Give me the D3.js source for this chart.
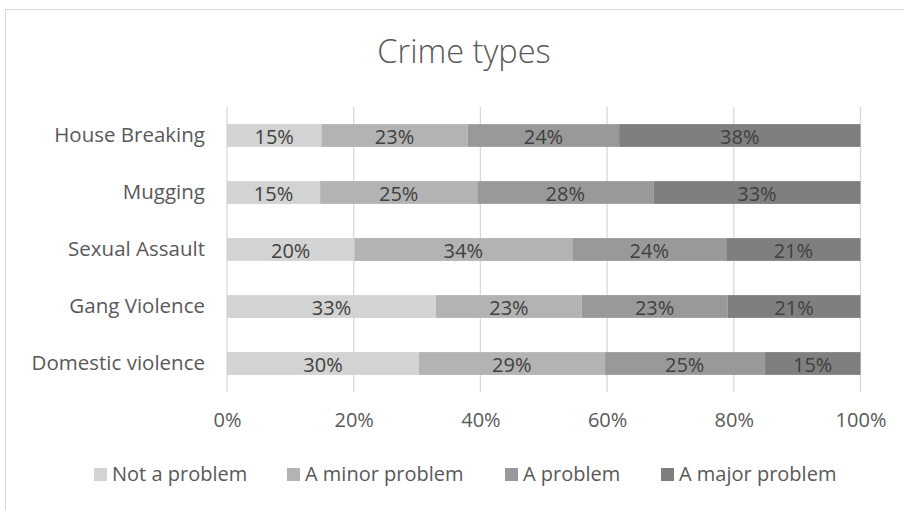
<!DOCTYPE html>
<html>
<head>
<meta charset="utf-8">
<script src="https://cdn.jsdelivr.net/npm/d3@7"></script>
<style>
  body { margin: 0; background: #fff; }
  text { font-family: "Open Sans", "DejaVu Sans", sans-serif; }
</style>
</head>
<body>
<div id="chart"></div>
<script>
const categories = ["House Breaking", "Mugging", "Sexual Assault", "Gang Violence", "Domestic violence"];
const seriesNames = ["Not a problem", "A minor problem", "A problem", "A major problem"];
const notAProblem = [14.9, 14.7, 20.1, 33.0, 30.3];
const minorProblem = [23.1, 24.8, 34.4, 23.0, 29.3];
const aProblem = [23.9, 27.8, 24.3, 23.0, 25.3];
const majorProblem = [38.1, 32.7, 21.2, 21.0, 15.1];
const xTicks = [0, 0.2, 0.4, 0.6, 0.8, 1];
const colors = ["#d3d3d3", "#b3b3b3", "#999999", "#7f7f7f"];

const svgWidth = 904, svgHeight = 510;
const margin = {top: 107, right: 44, bottom: 118, left: 227};
const width = 633.5;
const height = svgHeight - margin.top - margin.bottom;

const svg = d3.select("#chart").append("svg")
  .attr("width", svgWidth)
  .attr("height", svgHeight);

// chart border (continues past the right / bottom edge)
svg.append("rect")
  .attr("x", 5.5).attr("y", 9.5)
  .attr("width", 1000).attr("height", 600)
  .attr("fill", "#fff")
  .attr("stroke", "#d9d9d9");

svg.append("text")
  .attr("x", 464).attr("y", 63)
  .attr("text-anchor", "middle")
  .style("font-size", "32.5px")
  .style("font-weight", 300)
  .attr("fill", "#595959")
  .text("Crime types");

const g = svg.append("g").attr("transform", `translate(${margin.left},${margin.top})`);

// build rows from the series arrays
const rows = categories.map((c, i) => ({
  cat: c,
  "Not a problem": notAProblem[i] / 100,
  "A minor problem": minorProblem[i] / 100,
  "A problem": aProblem[i] / 100,
  "A major problem": majorProblem[i] / 100
}));
const stacked = d3.stack().keys(seriesNames)(rows);

const x = d3.scaleLinear().domain([0, 1]).range([0, width]);
const y = d3.scaleBand().domain(categories).range([0, height]).paddingInner(0.6).paddingOuter(0.3);

// gridlines
g.append("g")
  .selectAll("line")
  .data(xTicks)
  .join("line")
  .attr("x1", d => x(d)).attr("x2", d => x(d))
  .attr("y1", 0).attr("y2", height)
  .attr("stroke", "#d9d9d9")
  .attr("stroke-width", 1.3);

const xAxis = g.append("g")
  .attr("transform", `translate(0,${height})`)
  .call(d3.axisBottom(x).tickValues(xTicks).tickFormat(d3.format(".0%")).tickSize(0).tickPadding(21));
xAxis.select(".domain").remove();
xAxis.selectAll("text")
  .style("font-size", "20px")
  .attr("fill", "#595959");

const yAxis = g.append("g")
  .call(d3.axisLeft(y).tickSize(0).tickPadding(22));
yAxis.select(".domain").remove();
yAxis.selectAll("text")
  .style("font-size", "20.5px")
  .attr("fill", "#595959");

const layers = g.selectAll(".layer")
  .data(stacked)
  .join("g")
  .attr("class", "layer")
  .attr("fill", (d, i) => colors[i]);

layers.selectAll("rect")
  .data(d => d)
  .join("rect")
  .attr("x", d => x(d[0]))
  .attr("y", d => y(d.data.cat))
  .attr("width", d => x(d[1]) - x(d[0]))
  .attr("height", y.bandwidth());

layers.selectAll("text")
  .data(d => d)
  .join("text")
  .attr("x", d => (x(d[0]) + x(d[1])) / 2)
  .attr("y", d => y(d.data.cat) + y.bandwidth() / 2 + 1)
  .attr("dy", "0.35em")
  .attr("text-anchor", "middle")
  .style("font-size", "20px")
  .attr("fill", "#404040")
  .text(d => d3.format(".0%")(d[1] - d[0]));

// legend
const legend = svg.append("g").attr("transform", "translate(0,474)");
const legendX = [94, 287, 505, 661];
const items = legend.selectAll("g")
  .data(seriesNames)
  .join("g")
  .attr("transform", (d, i) => `translate(${legendX[i]},0)`);
items.append("rect")
  .attr("x", 0).attr("y", -6)
  .attr("width", 13).attr("height", 13)
  .attr("fill", (d, i) => colors[i]);
items.append("text")
  .attr("x", 18).attr("dy", "0.35em")
  .style("font-size", "20px")
  .attr("fill", "#595959")
  .text(d => d);
</script>
</body>
</html>
